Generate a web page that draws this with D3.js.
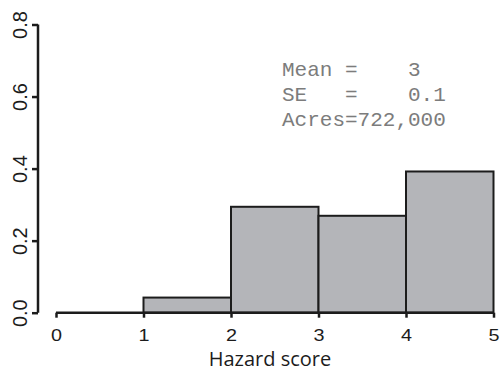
<!DOCTYPE html>
<html><head><meta charset="utf-8">
<script src="https://cdn.jsdelivr.net/npm/d3@7"></script>
<style>body{margin:0;background:#fff}svg{display:block}</style>
</head><body>
<script>
const binStarts = [0, 1, 2, 3, 4];
const binEnds = [1, 2, 3, 4, 5];
const densities = [0.0, 0.042, 0.294, 0.269, 0.392];
const xTicks = [0, 1, 2, 3, 4, 5];
const yTicks = [0.0, 0.2, 0.4, 0.6, 0.8];
const yTickLabels = ["0.0", "0.2", "0.4", "0.6", "0.8"];
const xTitle = "Hazard score";
const statLines = ["Mean =    3", "SE   =    0.1", "Acres=722,000"];

const W = 500, H = 374;
const svg = d3.select("body").append("svg").attr("width", W).attr("height", H);
const x = d3.scaleLinear().domain([0, 5]).range([56, 493.5]);
const y = d3.scaleLinear().domain([0, 0.8]).range([312.7, 24.5]);
const ink = "#1c1c1c";

// bars
svg.append("g").selectAll("rect").data(binStarts).join("rect")
  .attr("x", (d, i) => x(d))
  .attr("y", (d, i) => y(densities[i]))
  .attr("width", (d, i) => x(binEnds[i]) - x(d))
  .attr("height", (d, i) => y(0) - y(densities[i]))
  .attr("fill", "#b4b5b9")
  .attr("stroke", ink)
  .attr("stroke-width", 2);

// x axis
const xa = svg.append("g").attr("transform", `translate(0,${y(0)})`)
  .call(d3.axisBottom(x).tickValues(xTicks).tickSize(5).tickPadding(12).tickFormat(d3.format("d")));
xa.attr("font-size", null).attr("font-family", null);
xa.select(".domain").attr("stroke", ink).attr("stroke-width", 2.5).attr("d", `M${x(0)},0H${x(5)}`);
xa.selectAll(".tick line").attr("stroke", ink).attr("stroke-width", 2.5);
xa.selectAll(".tick text")
  .style("font-family", "'Liberation Sans', Arial, sans-serif")
  .style("font-size", "16.5px").attr("fill", ink)
  .attr("transform", "scale(1.2,1)");

// y axis
const ya = svg.append("g").attr("transform", `translate(38,0)`)
  .call(d3.axisLeft(y).tickValues(yTicks).tickSize(6).tickFormat((d, i) => yTickLabels[i]));
ya.attr("font-size", null).attr("font-family", null);
ya.select(".domain").attr("stroke", ink).attr("stroke-width", 2.5).attr("d", `M0,${y(0)}V${y(0.8)}`);
ya.selectAll(".tick line").attr("stroke", ink).attr("stroke-width", 2.5);
ya.selectAll(".tick text")
  .style("font-family", "'Liberation Sans', Arial, sans-serif")
  .style("font-size", "20px").attr("fill", ink)
  .attr("x", null).attr("dy", null)
  .attr("text-anchor", "middle")
  .attr("transform", "translate(-11.3,0) rotate(-90)");

// x title
svg.append("text").attr("x", 270).attr("y", 366)
  .attr("text-anchor", "middle")
  .style("font-family", "'Open Sans', Lato, sans-serif")
  .style("font-size", "20px").attr("fill", ink).text(xTitle);

// stats text
svg.append("g").selectAll("text").data(statLines).join("text")
  .attr("x", 282).attr("y", (d, i) => 76 + i * 25)
  .style("font-family", "'Liberation Mono', 'Courier New', monospace")
  .style("font-size", "21px").attr("fill", "#7c7c7c")
  .style("white-space", "pre").attr("xml:space", "preserve")
  .text(d => d);
</script>
</body></html>
